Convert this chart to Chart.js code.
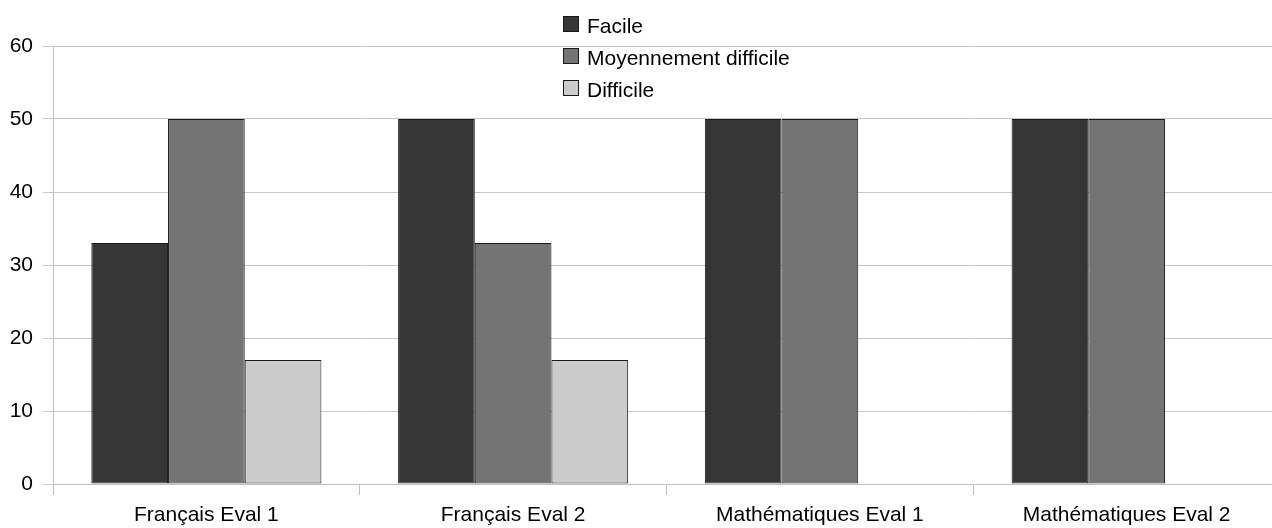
<!DOCTYPE html>
<html>
<head>
<meta charset="utf-8">
<script src="https://cdn.jsdelivr.net/npm/chart.js@4/dist/chart.umd.min.js"></script>
<style>
  html, body { margin: 0; padding: 0; overflow: hidden; background: #fff; }
  #wrap { width: 1290px; height: 528px; }
</style>
</head>
<body>
<div id="wrap"><canvas id="c" width="1290" height="528"></canvas></div>
<script>
// Percentages of pupils by perceived difficulty, per evaluation
const categories = ['Français Eval 1', 'Français Eval 2', 'Mathématiques Eval 1', 'Mathématiques Eval 2'];
const facile = [33, 50, 50, 50];
const moyennement = [50, 33, 50, 50];
const difficile = [17, 17, 0, 0];
const seriesNames = ['Facile', 'Moyennement difficile', 'Difficile'];
const yTicks = [0, 10, 20, 30, 40, 50, 60];

const FONT = '"Liberation Sans", Arial, sans-serif';
const FONT_SIZE = 21;
const colors = ['#363636', '#747474', '#cccccc'];

// Vertical legend drawn over the top of the plot
const overlayLegend = {
  id: 'overlayLegend',
  afterDraw(chart) {
    const ctx = chart.ctx;
    ctx.save();
    ctx.font = FONT_SIZE + 'px ' + FONT;
    ctx.textBaseline = 'middle';
    ctx.textAlign = 'left';
    chart.data.datasets.forEach((ds, i) => {
      const cy = 24 + i * 32;
      ctx.fillStyle = ds.backgroundColor;
      ctx.fillRect(563.5, cy - 7.5, 15, 15);
      ctx.strokeStyle = '#1a1a1a';
      ctx.lineWidth = 1;
      ctx.strokeRect(563.5, cy - 7.5, 15, 15);
      ctx.fillStyle = '#000';
      ctx.fillText(ds.label, 587, cy + 3);
    });
    ctx.restore();
  }
};

const values = [facile, moyennement, difficile];

new Chart(document.getElementById('c'), {
  type: 'bar',
  data: {
    labels: categories,
    datasets: seriesNames.map((name, i) => ({
      label: name,
      data: values[i],
      backgroundColor: colors[i],
      borderColor: '#1a1a1a',
      borderWidth: 1,
      borderSkipped: false,
      categoryPercentage: 0.75,
      barPercentage: 1
    }))
  },
  options: {
    responsive: false,
    animation: false,
    layout: { padding: { top: 46, right: 10, left: 0, bottom: 0 } },
    plugins: { legend: { display: false }, tooltip: { enabled: false } },
    scales: {
      x: {
        offset: true,
        grid: {
          offset: true,
          drawOnChartArea: false,
          drawTicks: true,
          tickLength: 11,
          color: '#c0c0c0',
          lineWidth: 1
        },
        border: { color: '#c0c0c0', width: 1 },
        ticks: { color: '#000', font: { family: FONT, size: FONT_SIZE }, padding: 8, maxRotation: 0, autoSkip: false },
        afterFit(scale) { scale.height = 44; }
      },
      y: {
        min: 0,
        max: 60,
        afterBuildTicks(scale) { scale.ticks = yTicks.map(v => ({ value: v })); },
        grid: { color: '#c8c8c8', lineWidth: 1, tickLength: 10, drawTicks: true },
        border: { color: '#c0c0c0', width: 1 },
        ticks: { color: '#000', font: { family: FONT, size: FONT_SIZE }, padding: 10 },
        afterFit(scale) { scale.width = 53; }
      }
    }
  },
  plugins: [overlayLegend]
});
</script>
</body>
</html>
